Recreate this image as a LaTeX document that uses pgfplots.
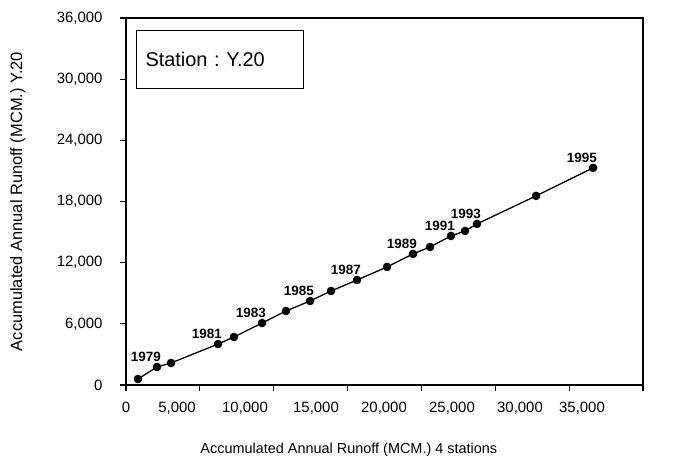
\documentclass[border=0pt]{standalone}
\usepackage{fontspec}
\setmainfont{Liberation Sans}
\usepackage{pgfplots}
\pgfplotsset{compat=1.18}
\begin{document}
\frenchspacing
\begin{tikzpicture}
\useasboundingbox (-126bp,-87bp) rectangle (556bp,385bp);
\begin{axis}[
  at={(0,0)}, anchor=south west,
  scale only axis, width=517bp, height=367bp,
  xmin=0, xmax=35000, ymin=0, ymax=36000,
  scaled ticks=false,
  axis line style={line width=1.3bp},
  tick align=outside, tick pos=left,
  major tick length=6bp,
  tick style={line width=1.1bp, black},
  /pgf/number format/assume math mode=true,
  tick label style={font=\fontsize{15}{18}\selectfont},
  xtick={0,5000,10000,15000,20000,25000,30000,35000},
  xticklabels={},
  extra x ticks={0,3453,8056,12863,17467,22070,26674,30871},
  extra x tick labels={0,{5,000},{10,000},{15,000},{20,000},{25,000},{30,000},{35,000}},
  extra x tick style={tick style={draw=none}},
  ytick={0,6000,12000,18000,24000,30000,36000},
  yticklabels={0,{6,000},{12,000},{18,000},{24,000},{30,000},{36,000}},
  xticklabel style={yshift=-8bp},
  yticklabel style={xshift=-14bp},
  xlabel={Accumulated Annual Runoff (MCM.) 4 stations},
  ylabel={Accumulated Annual Runoff (MCM.) Y.20},
  every axis x label/.style={at={(axis description cs:0.431,-0.177)},anchor=center,font=\fontsize{14.5}{17}\selectfont},
  every axis y label/.style={at={(axis description cs:-0.209,0.5)},anchor=center,rotate=90,font=\fontsize{16.5}{19}\selectfont},
  clip=false,
]
\addplot[black, line width=1.3bp, mark=*, mark size=3.6bp] coordinates {
  (812,589) (2100,1770) (3050,2160) (6230,4020) (7310,4710) (9210,6080)
  (10830,7260) (12460,8240) (13880,9220) (15640,10300) (17670,11580)
  (19430,12860) (20580,13540) (22000,14620) (22950,15110) (23760,15800)
  (27760,18550) (31620,21300)
};
\addplot[draw=none, mark=none, nodes near coords, point meta=explicit symbolic,
  every node near coord/.append style={anchor=south east, xshift=5bp, yshift=4bp,
    font=\bfseries\fontsize{13.5}{15}\selectfont, inner sep=1bp}] coordinates {
  (2100,1770)[1979] (6230,4020)[1981] (9210,6080)[1983] (12460,8240)[1985]
  (15640,10300)[1987] (19430,12860)[1989] (22000,14620)[1991]
  (23760,15800)[1993] (31620,21300)[1995]
};
\node[draw, line width=1.1bp, anchor=north west, minimum height=58bp,
  text width=149bp, inner xsep=9bp, align=left,
  font=\fontsize{20}{24}\selectfont] at (rel axis cs:0.0193,0.967) {Station : Y.20};
\end{axis}
\end{tikzpicture}
\end{document}
